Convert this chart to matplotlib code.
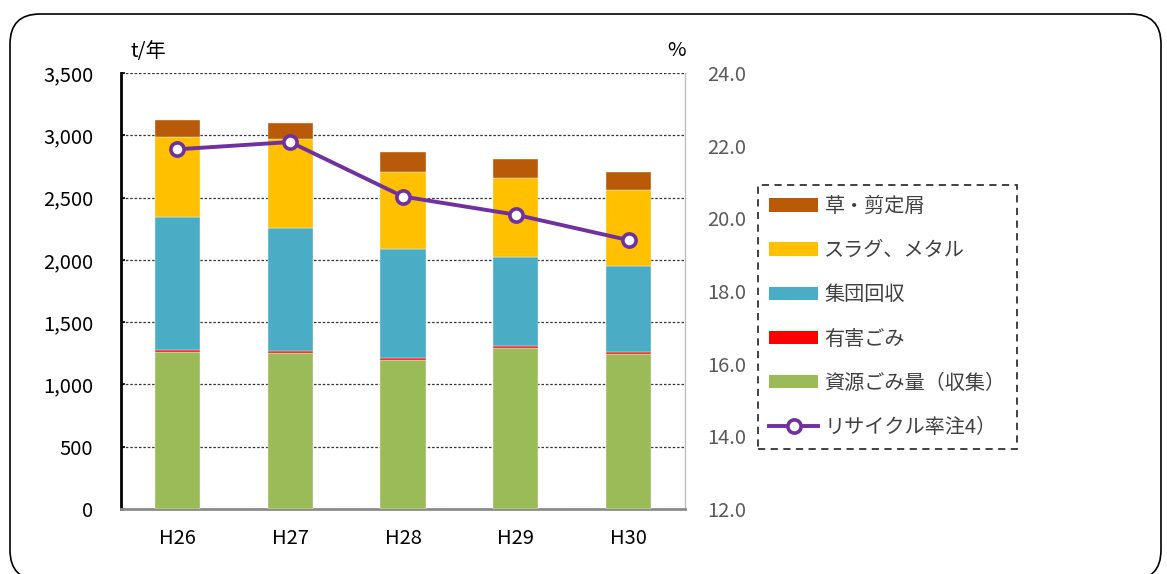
import matplotlib.pyplot as plt
from matplotlib.patches import FancyBboxPatch, Patch
from matplotlib.lines import Line2D
from matplotlib.transforms import IdentityTransform
from matplotlib.ticker import FuncFormatter, FormatStrFormatter

plt.rcParams['font.family'] = ['Noto Sans CJK JP', 'DejaVu Sans']

# 年度別の資源化量 (t/年) とリサイクル率 (%)
years = ['H26', 'H27', 'H28', 'H29', 'H30']
shigen = [1262, 1253, 1198, 1296, 1246]      # 資源ごみ量（収集）
yugai = [16, 16, 16, 16, 16]                 # 有害ごみ
shudan = [1069, 985, 874, 709, 692]          # 集団回収
slag = [643, 714, 621, 639, 608]             # スラグ、メタル
kusa = [134, 134, 155, 150, 142]             # 草・剪定屑
recycle_rate = [21.9, 22.1, 20.6, 20.1, 19.4]

series = [
    ('資源ごみ量（収集）', shigen, '#9BBB59'),
    ('有害ごみ', yugai, '#FF0000'),
    ('集団回収', shudan, '#4BACC6'),
    ('スラグ、メタル', slag, '#FFC000'),
    ('草・剪定屑', kusa, '#B85A07'),
]

fig = plt.figure(figsize=(11.67, 5.74), dpi=100)
ax = fig.add_axes([121 / 1167, 65 / 574, 564 / 1167, 436 / 574])

x = list(range(len(years)))
bottom = [0] * len(years)
for name, vals, color in series:
    ax.bar(x, vals, width=0.4, bottom=bottom, color=color,
           edgecolor='#f4f4f4', linewidth=0.3, zorder=3)
    bottom = [b + v for b, v in zip(bottom, vals)]

ax.set_xlim(-0.5, 4.5)
ax.set_ylim(0, 3500)
ax.set_yticks(range(0, 3501, 500))
ax.yaxis.set_major_formatter(FuncFormatter(lambda v, p: f'{int(v):,}'))
ax.set_xticks(x)
ax.set_xticklabels(years)
ax.grid(axis='y', linestyle=(0, (2, 1.5)), color='#333333', linewidth=0.9, zorder=0)
ax.tick_params(axis='y', direction='in', length=3, width=1.2, pad=20,
               labelsize=14.5, colors='black')
ax.tick_params(axis='x', length=0, pad=14, labelsize=14.5)

ax.spines['top'].set_visible(False)
ax.spines['left'].set_color('black')
ax.spines['left'].set_linewidth(2)
ax.spines['bottom'].set_color('#8c8c8c')
ax.spines['bottom'].set_linewidth(2)
ax.spines['right'].set_color('#bfbfbf')
ax.spines['right'].set_linewidth(1)

ax2 = ax.twinx()
ax2.plot(x, recycle_rate, color='#7030A0', linewidth=2.8, marker='o',
         markersize=9.5, markerfacecolor='white', markeredgecolor='#7030A0',
         markeredgewidth=2.6, zorder=5)
ax2.set_ylim(12, 24)
ax2.set_yticks(range(12, 25, 2))
ax2.yaxis.set_major_formatter(FormatStrFormatter('%.1f'))
ax2.tick_params(axis='y', length=0, pad=16, labelsize=14.5, labelcolor='#595959')
for side in ['top', 'left', 'bottom', 'right']:
    ax2.spines[side].set_visible(False)

fig.text(148 / 1167, 1 - 52 / 574, 't/年', fontsize=14.5, ha='center', va='center')
fig.text(676 / 1167, 1 - 51 / 574, '%', fontsize=14.5, ha='center', va='center')

handles = [Patch(facecolor=c, edgecolor='none') for _, _, c in reversed(series)]
labels = [n for n, _, _ in reversed(series)]
handles.append(Line2D([], [], color='#7030A0', linewidth=2.8, marker='o',
                      markersize=9.5, markerfacecolor='white',
                      markeredgecolor='#7030A0', markeredgewidth=2.6))
labels.append('リサイクル率注4）')
leg = fig.legend(handles, labels, loc='upper left',
                 bbox_to_anchor=(758 / 1167, 1 - 185 / 574),
                 fontsize=14.5, frameon=True, fancybox=False,
                 handlelength=2.45, handleheight=0.65, handletextpad=0.3,
                 labelspacing=1.15, borderpad=0.55, borderaxespad=0)
for t in leg.get_texts():
    t.set_color('#404040')
frame = leg.get_frame()
frame.set_edgecolor('black')
frame.set_linestyle((0, (4, 3)))
frame.set_linewidth(1.3)

# 角丸の外枠
border = FancyBboxPatch((10, -6), 1151, 566,
                        boxstyle='round,pad=0,rounding_size=30',
                        transform=IdentityTransform(), fill=False,
                        edgecolor='black', linewidth=1.2)
fig.patches.append(border)

fig.savefig('out.png', dpi=100)
